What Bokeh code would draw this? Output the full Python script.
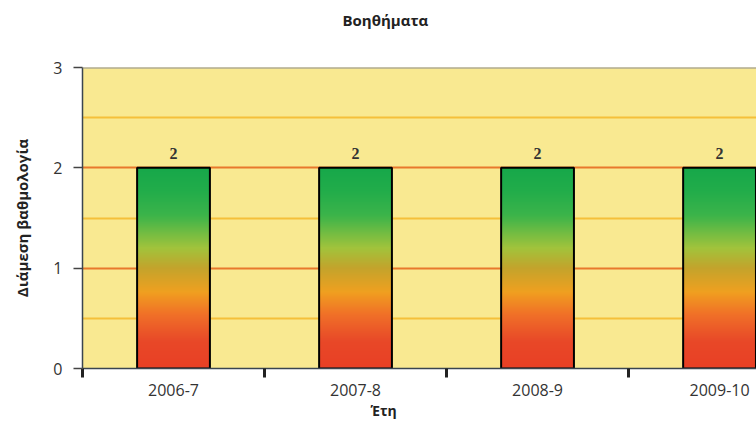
import numpy as np
from bokeh.plotting import figure
from bokeh.models import Range1d, FixedTicker, Span, Title
from bokeh.core.properties import value
from bokeh.embed import file_html
from bokeh.resources import INLINE

# ---- data ----
years = ["2006-7", "2007-8", "2008-9", "2009-10"]
medians = [2, 2, 2, 2]
y_ticks = [0, 1, 2, 3]
title_text = "Βοηθήματα"
x_title = "Έτη"
y_title = "Διάμεση βαθμολογία"

xs = [i + 0.5 for i in range(len(years))]
bar_w = 0.4

p = figure(width=756, height=429, output_backend="svg", toolbar_location=None,
           x_range=Range1d(0, 3.703), y_range=Range1d(0, 3))
p.min_border_left = 82
p.min_border_right = 0
p.min_border_top = 67
p.min_border_bottom = 61
p.background_fill_color = "#f9e991"
p.border_fill_color = "white"
p.outline_line_color = None

# grid
p.xgrid.visible = False
p.ygrid.ticker = FixedTicker(ticks=[1, 2], minor_ticks=[0.5, 1.5, 2.5])
p.ygrid.grid_line_color = "#e8782c"
p.ygrid.grid_line_width = 2
p.ygrid.minor_grid_line_color = "#f5c03a"
p.ygrid.minor_grid_line_width = 2
p.add_layout(Span(location=3, dimension="width", line_color="#8c8c8c", line_width=2))

# gradient bars (styling only)
stops = [0.0, 0.13, 0.265, 0.38, 0.5, 0.6, 0.76, 0.88, 1.0]
cols = ["#e84025", "#e84828", "#f07028", "#f0a020", "#c4a42c", "#a2c43c", "#3cb44a", "#22ad4a", "#17a84b"]
rgb = np.array([[int(c[i:i + 2], 16) for i in (1, 3, 5)] for c in cols], dtype=float)
n = 400
f = np.linspace(0, 1, n)
img = np.empty((n, 1), dtype=np.uint32)
view = img.view(dtype=np.uint8).reshape((n, 1, 4))
for k in range(3):
    view[:, 0, k] = np.interp(f, stops, rgb[:, k]).astype(np.uint8)
view[:, 0, 3] = 255

p.image_rgba(image=[img] * len(years), x=[x - bar_w / 2 for x in xs], y=[0] * len(years),
             dw=[bar_w] * len(years), dh=medians)
p.vbar(x=xs, top=medians, width=bar_w, fill_color=None, line_color="black", line_width=2)

p.text(x=xs, y=medians, text=[str(v) for v in medians], text_align="center",
       text_baseline="middle", y_offset=-14, text_font=value("Liberation Serif"),
       text_font_style="bold", text_font_size="16px", text_color="#333333")

# axes
xa = p.xaxis[0]
xa.ticker = FixedTicker(ticks=xs, minor_ticks=[float(i) for i in range(len(years))])
xa.major_label_overrides = {x: lab for x, lab in zip(xs, years)}
xa.major_tick_line_color = None
xa.minor_tick_line_color = "#222222"
xa.minor_tick_line_width = 3
xa.minor_tick_in = 0
xa.minor_tick_out = 9
xa.major_label_standoff = 6
xa.major_label_text_font = "Open Sans"
xa.major_label_text_font_size = "16px"
xa.major_label_text_color = "#333333"
xa.axis_line_color = "#3a4550"
xa.axis_line_width = 1.5

ya = p.yaxis[0]
ya.ticker = FixedTicker(ticks=y_ticks, minor_ticks=[])
ya.major_tick_in = 0
ya.major_tick_out = 9
ya.major_tick_line_color = "#444444"
ya.major_tick_line_width = 1.5
ya.major_label_standoff = 11
ya.major_label_text_font = "Open Sans"
ya.major_label_text_font_size = "16px"
ya.major_label_text_color = "#333333"
ya.axis_line_color = "#3a4550"
ya.axis_line_width = 1.5
ya.axis_label = y_title
ya.axis_label_text_font = "Open Sans"
ya.axis_label_text_font_style = "bold"
ya.axis_label_text_font_size = "15px"
ya.axis_label_text_color = "#222222"
ya.axis_label_standoff = 18

# spacer (closest to the frame) then the real title above it
p.add_layout(Title(text=" ", text_font_size="12px", standoff=17), "above")
p.add_layout(Title(text=title_text, align="left", offset=260, standoff=10,
                   text_font="Open Sans", text_font_style="bold", text_font_size="15px",
                   text_color="#222222"), "above")
p.add_layout(Title(text=x_title, align="left", offset=288, standoff=0,
                   text_font="Open Sans", text_font_style="bold", text_font_size="14px",
                   text_color="#222222"), "below")

open("out.html", "w").write(file_html(p, INLINE))
